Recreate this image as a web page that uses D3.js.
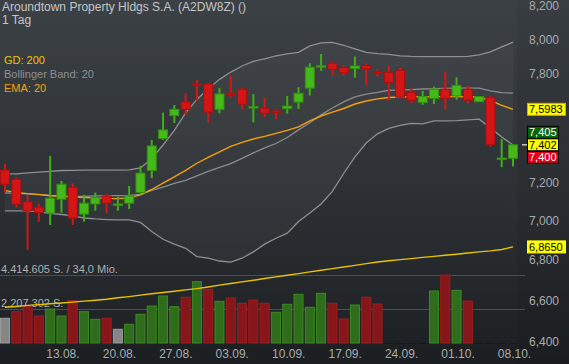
<!DOCTYPE html>
<html>
<head>
<meta charset="utf-8">
<script src="https://cdn.jsdelivr.net/npm/d3@7"></script>
<style>
  html, body { margin: 0; padding: 0; background: #2a2e32; overflow: hidden; }
  svg { display: block; font-family: "Liberation Sans", Arial, sans-serif; }
</style>
</head>
<body>
<div id="chart"></div>
<script>
// trading days shown (06.08. - 08.10.)
var days = [
  "06.08.", "07.08.", "08.08.", "09.08.", "10.08.",
  "13.08.", "14.08.", "15.08.", "16.08.", "17.08.",
  "20.08.", "21.08.", "22.08.", "23.08.", "24.08.",
  "27.08.", "28.08.", "29.08.", "30.08.", "31.08.",
  "03.09.", "04.09.", "05.09.", "06.09.", "07.09.",
  "10.09.", "11.09.", "12.09.", "13.09.", "14.09.",
  "17.09.", "18.09.", "19.09.", "20.09.", "21.09.",
  "24.09.", "25.09.", "26.09.", "27.09.", "28.09.",
  "01.10.", "02.10.", "03.10.", "04.10.", "05.10.",
  "08.10."
];
var dateTicks = ["13.08.", "20.08.", "27.08.", "03.09.", "10.09.", "17.09.", "24.09.", "01.10.", "08.10."];

// daily candles
var open = [7.266, 7.216, 7.097, 7.069, 7.038, 7.111, 7.174, 7.033, 7.086, 7.128,
  7.085, 7.090, 7.146, 7.263, 7.436, 7.563, 7.640, 7.742, 7.742, 7.598,
  7.689, 7.712, 7.611, 7.604, 7.589, 7.602, 7.639, 7.718, 7.845, 7.861,
  7.836, 7.830, 7.848, 7.812, 7.809, 7.819, 7.695, 7.637, 7.660, 7.712,
  7.674, 7.712, 7.641, 7.666, 7.328, 7.329];
var high = [7.299, 7.225, 7.134, 7.086, 7.342, 7.207, 7.195, 7.134, 7.146, 7.137,
  7.124, 7.181, 7.288, 7.429, 7.580, 7.623, 7.689, 7.765, 7.749, 7.718,
  7.791, 7.721, 7.684, 7.666, 7.594, 7.673, 7.723, 7.861, 7.915, 7.868,
  7.849, 7.900, 7.861, 7.826, 7.850, 7.836, 7.718, 7.702, 7.727, 7.813,
  7.780, 7.733, 7.671, 7.673, 7.433, 7.405];
var low = [7.146, 7.067, 6.850, 6.994, 6.977, 7.041, 6.977, 6.994, 7.051, 7.038,
  7.051, 7.060, 7.134, 7.222, 7.429, 7.522, 7.567, 7.645, 7.525, 7.576,
  7.666, 7.598, 7.525, 7.554, 7.544, 7.574, 7.600, 7.676, 7.818, 7.790,
  7.790, 7.778, 7.734, 7.784, 7.648, 7.660, 7.632, 7.624, 7.628, 7.598,
  7.652, 7.630, 7.639, 7.392, 7.281, 7.284];
var close = [7.190, 7.085, 7.051, 7.041, 7.116, 7.190, 7.012, 7.090, 7.119, 7.090,
  7.086, 7.128, 7.249, 7.396, 7.484, 7.598, 7.598, 7.739, 7.582, 7.685,
  7.678, 7.627, 7.614, 7.576, 7.587, 7.617, 7.689, 7.838, 7.847, 7.826,
  7.806, 7.845, 7.828, 7.805, 7.751, 7.667, 7.649, 7.670, 7.712, 7.660,
  7.734, 7.649, 7.670, 7.404, 7.330, 7.402];

// volume (shares), colour of the volume bar
var volume = [1603500, 2032000, 2356600, 1752900, 2207300, 1752900, 2746200, 2032000, 1538600, 1603500,
  889400, 1214000, 1863200, 2402100, 3051300, 2356600, 2966900, 3979700, 3486300, 2707200,
  2921400, 2577400, 2791600, 2577400, 1993100, 2512400, 3161700, 2317700, 3226600, 2577400,
  1558100, 2467000, 2966900, 2531900, 0, 0, 0, 0, 3375900, 4414605,
  3421300, 2726700, 0, 0, 0, 0];
var volDir = ["flat", "down", "down", "down", "up", "up", "down", "up", "up", "down",
  "flat", "up", "up", "up", "up", "up", "down", "up", "down", "up",
  "down", "down", "down", "down", "up", "up", "up", "up", "up", "down",
  "down", "up", "down", "down", "none", "none", "none", "none", "up", "down",
  "up", "down", "none", "none", "none", "none"];

// indicators
var bbUpper = [7.245, 7.245, 7.250, 7.254, 7.258, 7.263, 7.264, 7.265, 7.265, 7.265,
  7.265, 7.266, 7.277, 7.328, 7.401, 7.481, 7.578, 7.654, 7.714, 7.768,
  7.810, 7.845, 7.872, 7.886, 7.904, 7.915, 7.924, 7.962, 7.980, 7.983,
  7.966, 7.945, 7.924, 7.917, 7.913, 7.904, 7.901, 7.900, 7.900, 7.900,
  7.900, 7.901, 7.910, 7.927, 7.956, 7.984];
var bbMiddle = [7.144, 7.141, 7.139, 7.136, 7.131, 7.128, 7.126, 7.126, 7.128, 7.130,
  7.130, 7.131, 7.136, 7.157, 7.175, 7.194, 7.210, 7.234, 7.258, 7.280,
  7.300, 7.328, 7.358, 7.385, 7.409, 7.442, 7.484, 7.523, 7.567, 7.606,
  7.640, 7.668, 7.684, 7.694, 7.706, 7.707, 7.710, 7.713, 7.715, 7.716,
  7.718, 7.718, 7.718, 7.702, 7.692, 7.690];
var bbLower = [7.050, 7.050, 7.050, 7.045, 7.037, 7.031, 7.024, 7.013, 7.008, 7.005,
  7.003, 7.003, 6.990, 6.943, 6.904, 6.879, 6.858, 6.816, 6.808, 6.794,
  6.788, 6.808, 6.840, 6.879, 6.909, 6.935, 6.995, 7.039, 7.086, 7.152,
  7.247, 7.336, 7.412, 7.462, 7.492, 7.509, 7.520, 7.517, 7.534, 7.534,
  7.535, 7.539, 7.543, 7.495, 7.445, 7.401];
var ema20 = [7.156, 7.147, 7.140, 7.135, 7.129, 7.126, 7.123, 7.120, 7.118, 7.115,
  7.114, 7.118, 7.134, 7.162, 7.196, 7.229, 7.264, 7.302, 7.334, 7.363,
  7.393, 7.415, 7.434, 7.448, 7.465, 7.481, 7.501, 7.534, 7.561, 7.583,
  7.603, 7.628, 7.645, 7.657, 7.665, 7.668, 7.669, 7.670, 7.670, 7.670,
  7.670, 7.669, 7.668, 7.648, 7.620, 7.5983];
var gd200 = [6.566, 6.570, 6.575, 6.579, 6.583, 6.587, 6.591, 6.596, 6.600, 6.605,
  6.612, 6.618, 6.625, 6.632, 6.638, 6.644, 6.651, 6.657, 6.665, 6.674,
  6.682, 6.690, 6.698, 6.707, 6.715, 6.723, 6.731, 6.740, 6.748, 6.756,
  6.764, 6.772, 6.781, 6.789, 6.795, 6.801, 6.806, 6.812, 6.817, 6.823,
  6.828, 6.834, 6.840, 6.845, 6.852, 6.865];

// 7,400 and 7,600 sit behind the value boxes, so they are left out
var priceTicks = [6.4, 6.6, 6.8, 7.0, 7.2, 7.8, 8.0, 8.2];
var lastPrice = 7.402, askPrice = 7.405, bidPrice = 7.400;
var volMax = 4414605;

// dimensions
var width = 569, height = 364;
var plotRight = 513;

var svg = d3.select("#chart")
  .append("svg")
  .attr("width", width)
  .attr("height", height);

// background gradient
var defs = svg.append("defs");
var bg = defs.append("linearGradient")
  .attr("id", "bg")
  .attr("x1", 0).attr("y1", 0).attr("x2", 0).attr("y2", 1);
bg.append("stop").attr("offset", "0%").attr("stop-color", "#3c4145");
bg.append("stop").attr("offset", "55%").attr("stop-color", "#2c3034");
bg.append("stop").attr("offset", "100%").attr("stop-color", "#1c1f22");

svg.append("rect")
  .attr("width", width)
  .attr("height", height)
  .attr("fill", "url(#bg)");

// axis strip on the right is a touch darker
svg.append("rect")
  .attr("x", plotRight + 4)
  .attr("y", 0)
  .attr("width", width - plotRight - 4)
  .attr("height", height)
  .attr("fill", "#000")
  .attr("opacity", 0.06);

// scales
var x = d3.scalePoint().domain(days).range([5, plotRight]);
var y = d3.scaleLog().domain([6.4, 8.2]).range([342, 6]);
var yVol = d3.scaleLinear().domain([0, volMax]).range([343, 275]);

// bollinger band fill
svg.append("path")
  .attr("fill", "#ffffff")
  .attr("opacity", 0.035)
  .attr("d", d3.area()
    .x(function (d, i) { return x(days[i]); })
    .y0(function (d, i) { return y(bbLower[i]); })
    .y1(function (d, i) { return y(bbUpper[i]); })(days));

// volume grid + labels
[volMax, volMax / 2].forEach(function (v) {
  svg.append("line")
    .attr("x1", 0)
    .attr("x2", plotRight + 12)
    .attr("y1", Math.round(yVol(v)) + 0.5)
    .attr("y2", Math.round(yVol(v)) + 0.5)
    .attr("stroke", "#4b4f54")
    .attr("stroke-width", 1);
});

svg.append("text")
  .attr("x", 1)
  .attr("y", yVol(volMax) - 2)
  .attr("fill", "#aeb0b2")
  .style("font-size", "11px")
  .text("4.414.605 S. / 34,0 Mio.");

svg.append("text")
  .attr("x", 1)
  .attr("y", yVol(volMax / 2) - 2)
  .attr("fill", "#aeb0b2")
  .style("font-size", "11px")
  .text("2.207.302 S.");

// volume bars
var volFill = { up: "#2f6c1b", down: "#861619", flat: "#868686" };
var volStroke = { up: "#3d8a23", down: "#a21d20", flat: "#9c9c9c" };

svg.selectAll(".vol")
  .data(days)
  .enter()
  .append("rect")
  .attr("class", "vol")
  .attr("x", function (d) { return x(d) - 4.5; })
  .attr("width", 9)
  .attr("y", function (d, i) { return yVol(volume[i]); })
  .attr("height", function (d, i) { return Math.max(0.8, yVol(0) - yVol(volume[i])); })
  .attr("fill", function (d, i) { return volDir[i] === "none" ? "#15171a" : volFill[volDir[i]]; })
  .attr("stroke", function (d, i) { return volDir[i] === "none" ? "none" : volStroke[volDir[i]]; })
  .attr("stroke-width", 1);

// indicator lines
function drawLine(values, color, w) {
  svg.append("path")
    .attr("fill", "none")
    .attr("stroke", color)
    .attr("stroke-width", w)
    .attr("d", d3.line()
      .x(function (d, i) { return x(days[i]); })
      .y(function (d) { return y(d); })(values));
}

drawLine(gd200, "#e8c400", 1.4);
drawLine(bbUpper, "#8e8f91", 1.3);
drawLine(bbLower, "#8e8f91", 1.3);
drawLine(bbMiddle, "#8a8b8d", 1.3);
drawLine(ema20, "#f5a10c", 1.4);

// candles
var candles = svg.selectAll(".candle")
  .data(days)
  .enter()
  .append("g")
  .attr("class", "candle");

candles.append("line")
  .attr("x1", function (d) { return x(d); })
  .attr("x2", function (d) { return x(d); })
  .attr("y1", function (d, i) { return y(high[i]); })
  .attr("y2", function (d, i) { return y(low[i]); })
  .attr("stroke", function (d, i) { return close[i] >= open[i] ? "#3fae17" : "#d31616"; })
  .attr("stroke-width", 2);

candles.append("rect")
  .attr("x", function (d) { return x(d) - 4.5; })
  .attr("width", 9)
  .attr("y", function (d, i) { return y(Math.max(open[i], close[i])); })
  .attr("height", function (d, i) {
    return Math.max(1.5, y(Math.min(open[i], close[i])) - y(Math.max(open[i], close[i])));
  })
  .attr("fill", function (d, i) { return close[i] >= open[i] ? "#45b81a" : "#d51515"; })
  .attr("stroke", function (d, i) { return close[i] >= open[i] ? "#33900f" : "#a80f10"; })
  .attr("stroke-width", 1);

// price axis
var yAxis = svg.append("g")
  .attr("transform", "translate(" + (plotRight + 14) + ",0)")
  .call(d3.axisRight(y)
    .tickValues(priceTicks)
    .tickSize(0)
    .tickPadding(2)
    .tickFormat(function (d) { return d.toFixed(3).replace(".", ","); }));
yAxis.select(".domain").remove();
yAxis.selectAll("text")
  .attr("fill", "#a9abad")
  .style("font-size", "12px")
  .style("font-family", "Liberation Sans, Arial, sans-serif");

// date axis
var xAxis = svg.append("g")
  .attr("transform", "translate(1,346)")
  .call(d3.axisBottom(x)
    .tickValues(dateTicks)
    .tickSize(0)
    .tickPadding(3));
xAxis.select(".domain").remove();
xAxis.selectAll("text")
  .attr("fill", "#a9abad")
  .style("font-size", "12px")
  .style("font-family", "Liberation Sans, Arial, sans-serif");

// last price marker
svg.append("line")
  .attr("x1", plotRight + 9)
  .attr("x2", plotRight + 14)
  .attr("y1", y(lastPrice))
  .attr("y2", y(lastPrice))
  .attr("stroke", "#c8c8c8")
  .attr("stroke-width", 1.5);

// value boxes on the axis
function valueBox(cy, label, fill, stroke, color, w) {
  var g = svg.append("g").attr("transform", "translate(" + (plotRight + 14) + "," + cy + ")");
  g.append("rect")
    .attr("x", 0.5)
    .attr("y", -6)
    .attr("width", w)
    .attr("height", 12)
    .attr("fill", fill)
    .attr("stroke", stroke)
    .attr("stroke-width", 1);
  g.append("text")
    .attr("x", 2)
    .attr("y", 0)
    .attr("dy", "0.36em")
    .attr("fill", color)
    .style("font-size", "11px")
    .text(label);
}

var fmt = function (v, n) { return v.toFixed(n).replace(".", ","); };
valueBox(y(ema20[ema20.length - 1]), fmt(ema20[ema20.length - 1], 4), "#ffff00", "#f0a000", "#000", 38);
valueBox(y(lastPrice) - 12.5, fmt(askPrice, 3), "#056405", "#000", "#fff", 31);
valueBox(y(lastPrice), fmt(lastPrice, 3), "#ffff00", "#000", "#000", 31);
valueBox(y(lastPrice) + 12.5, fmt(bidPrice, 3), "#e0001a", "#000", "#fff", 31);
valueBox(y(gd200[gd200.length - 1]), fmt(gd200[gd200.length - 1], 4), "#ffff00", "#ffff00", "#000", 38);

// title
svg.append("text")
  .attr("x", 2)
  .attr("y", 10.5)
  .attr("fill", "#c4c6c8")
  .style("font-size", "12px")
  .text("Aroundtown Property Hldgs S.A. (A2DW8Z) ()");
svg.append("text")
  .attr("x", 2)
  .attr("y", 24)
  .attr("fill", "#c4c6c8")
  .style("font-size", "12px")
  .text("1 Tag");

// legend
var legend = [
  { label: "GD: 200", color: "#e8c800" },
  { label: "Bollinger Band: 20", color: "#8d8f91" },
  { label: "EMA: 20", color: "#f5a10c" }
];
svg.selectAll(".legend")
  .data(legend)
  .enter()
  .append("text")
  .attr("class", "legend")
  .attr("x", 4)
  .attr("y", function (d, i) { return 64 + i * 14; })
  .attr("fill", function (d) { return d.color; })
  .style("font-size", "11px")
  .text(function (d) { return d.label; });
</script>
</body>
</html>
